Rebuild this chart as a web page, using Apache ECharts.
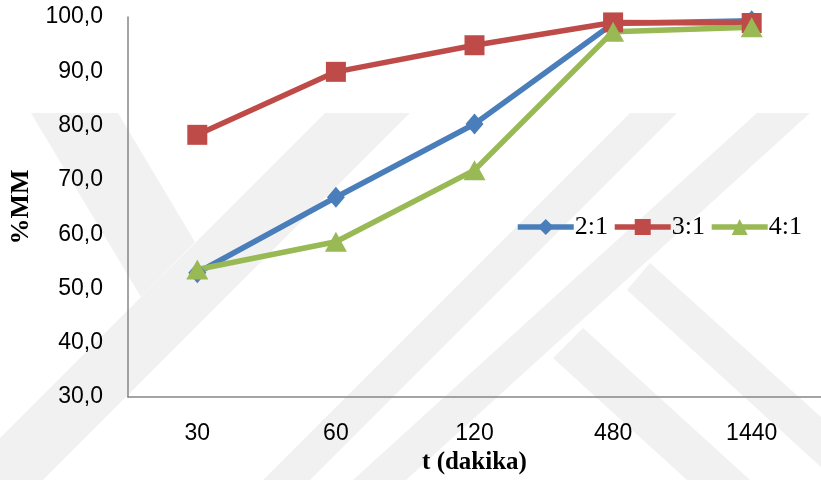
<!DOCTYPE html>
<html>
<head>
<meta charset="utf-8">
<script src="https://cdn.jsdelivr.net/npm/echarts@6/dist/echarts.min.js"></script>
<style>
  html, body { margin: 0; padding: 0; background: #fff; }
  #chart { width: 821px; height: 480px; }
</style>
</head>
<body>
<div id="chart"></div>
<script>
// Reaction time (minutes) and conversion (%MM) for three molar ratios
const categories = ['30', '60', '120', '480', '1440'];
const ratio21 = [52.9, 66.8, 80.3, 98.8, 99.3];
const ratio31 = [78.3, 89.9, 94.8, 99.0, 98.9];
const ratio41 = [53.5, 58.6, 71.8, 97.3, 98.1];
const seriesNames = ['2:1', '3:1', '4:1'];
const yTicks = { min: 30, max: 100, step: 10 };

// faint background emblem, built from diagonal bands
const bandColor = '#f1f1f1';
const bands = [
  [[31, 113], [118, 113], [195, 242], [141, 297]],
  [[325, 113], [410, 113], [43, 480], [-42, 480]],
  [[630, 113], [677, 113], [310, 480], [263, 480]],
  [[757, 113], [810, 113], [406, 480], [353, 480]],
  [[650, 263], [821, 417], [821, 467], [627, 290]],
  [[583, 328], [750, 480], [687, 480], [553, 358]]
];

const chart = echarts.init(document.getElementById('chart'), null, { renderer: 'canvas' });

const sansFont = '"Liberation Sans", Arial, sans-serif';
const serifFont = '"Liberation Serif", "Times New Roman", serif';

function makeSeries(name, data, color, symbol, size) {
  return {
    name: name,
    type: 'line',
    data: data,
    symbol: symbol,
    symbolSize: size,
    showAllSymbol: true,
    lineStyle: { color: color, width: 5.5 },
    itemStyle: { color: color },
    emphasis: { disabled: true },
    animation: false
  };
}

chart.setOption({
  backgroundColor: '#ffffff',
  animation: false,
  graphic: bands.map(pts => ({
    type: 'polygon',
    silent: true,
    z: -10,
    shape: { points: pts },
    style: { fill: bandColor }
  })),
  grid: { left: 127, top: 17, width: 705, height: 384, containLabel: false },
  legend: {
    data: seriesNames,
    left: 510,
    top: 209,
    itemWidth: 56,
    itemHeight: 20,
    itemGap: 4,
    lineStyle: { width: 5.5 },
    textStyle: { fontFamily: serifFont, fontSize: 26, color: '#000', padding: [0, 0, 0, -4] }
  },
  xAxis: {
    type: 'category',
    data: categories,
    boundaryGap: true,
    name: 't (dakika)',
    nameLocation: 'middle',
    nameGap: 45,
    nameTextStyle: { fontFamily: serifFont, fontSize: 25, fontWeight: 'bold', color: '#000' },
    axisLine: { lineStyle: { color: '#868686', width: 1.5 } },
    axisTick: { show: false },
    axisLabel: { fontFamily: sansFont, fontSize: 23, color: '#000', margin: 25 },
    splitLine: { show: false }
  },
  yAxis: {
    type: 'value',
    min: yTicks.min,
    max: yTicks.max,
    interval: yTicks.step,
    name: '%MM',
    nameLocation: 'middle',
    nameGap: 94,
    nameRotate: 90,
    nameTextStyle: { fontFamily: serifFont, fontSize: 26, fontWeight: 'bold', color: '#000' },
    axisLine: { show: true, lineStyle: { color: '#868686', width: 1.5 } },
    axisTick: { show: false },
    axisLabel: {
      fontFamily: sansFont, fontSize: 23, color: '#000', margin: 25,
      formatter: v => v.toFixed(1).replace('.', ',')
    },
    splitLine: { show: false }
  },
  series: [
    makeSeries(seriesNames[0], ratio21, '#4A7EBB', 'diamond', [18, 21]),
    makeSeries(seriesNames[1], ratio31, '#BE4B48', 'rect', [20, 20]),
    makeSeries(seriesNames[2], ratio41, '#98B954', 'triangle', [22, 20])
  ]
});
</script>
</body>
</html>
